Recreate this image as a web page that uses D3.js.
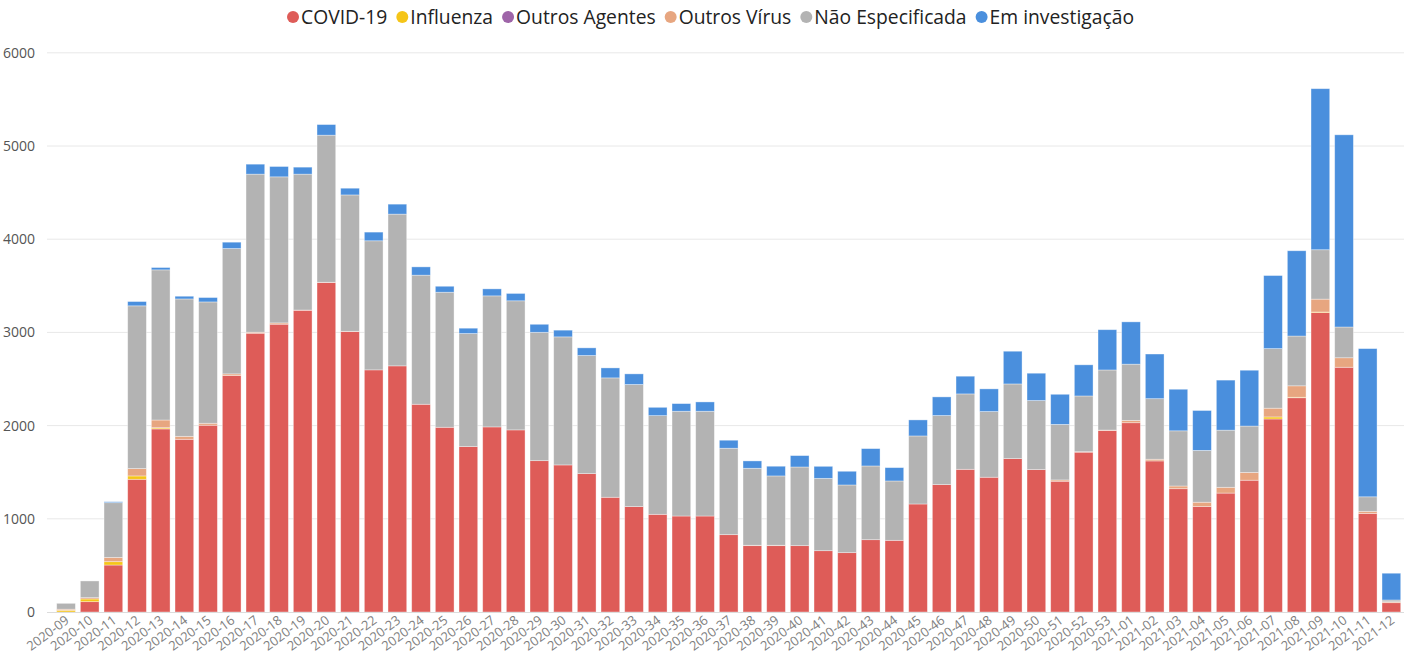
<!DOCTYPE html>
<html>
<head>
<meta charset="utf-8">
<script src="https://cdn.jsdelivr.net/npm/d3@7"></script>
<style>
  html, body { margin: 0; padding: 0; background: #fff; }
  svg { display: block; }
</style>
</head>
<body>
<svg id="chart" width="1404" height="664"></svg>
<script>
const categories = [
  "2020-09","2020-10","2020-11","2020-12","2020-13","2020-14","2020-15","2020-16","2020-17","2020-18",
  "2020-19","2020-20","2020-21","2020-22","2020-23","2020-24","2020-25","2020-26","2020-27","2020-28",
  "2020-29","2020-30","2020-31","2020-32","2020-33","2020-34","2020-35","2020-36","2020-37","2020-38",
  "2020-39","2020-40","2020-41","2020-42","2020-43","2020-44","2020-45","2020-46","2020-47","2020-48",
  "2020-49","2020-50","2020-51","2020-52","2020-53","2021-01","2021-02","2021-03","2021-04","2021-05",
  "2021-06","2021-07","2021-08","2021-09","2021-10","2021-11","2021-12"
];

const covid = [
  0,111,504,1424,1964,1853,2004,2537,2991,3088,
  3238,3535,3009,2598,2641,2229,1982,1775,1986,1954,
  1624,1578,1485,1231,1131,1048,1030,1030,830,712,
  712,712,658,637,776,769,1159,1367,1531,1446,
  1646,1528,1403,1715,1947,2031,1621,1323,1131,1276,
  1414,2071,2299,3214,2626,1058,100
];
const influenza = [
  18,29,36,36,11,0,0,0,0,0,
  0,0,0,0,0,0,0,0,0,0,
  0,0,0,0,0,0,0,0,0,0,
  0,0,0,0,0,0,0,0,0,0,
  0,0,0,0,0,0,0,0,0,0,
  0,22,5,5,0,0,0
];
const outrosAgentes = [
  0,0,0,0,3,0,0,0,0,0,
  0,0,0,0,0,0,0,0,0,0,
  0,0,0,0,0,0,0,0,0,0,
  0,0,0,0,0,0,0,0,0,0,
  0,0,0,0,0,0,0,0,0,0,
  0,0,0,0,0,0,0
];
const outrosVirus = [
  12,14,46,79,82,32,21,18,11,14,
  2,3,3,0,0,0,0,0,0,0,
  0,0,0,0,0,0,0,0,0,4,
  4,0,0,0,0,0,0,0,0,0,
  0,0,14,5,5,25,18,29,47,62,
  83,94,123,138,102,22,10
];
const naoEspecificada = [
  63,179,587,1746,1611,1474,1302,1345,1696,1567,
  1458,1578,1463,1385,1628,1385,1449,1213,1406,1385,
  1377,1374,1267,1281,1310,1059,1124,1124,927,826,
  744,844,776,726,791,637,730,741,809,705,
  801,741,596,598,645,603,650,592,556,613,
  498,639,534,530,330,156,19
];
const emInvestigacao = [
  0,0,10,46,25,29,47,68,107,111,
  75,114,72,93,107,89,64,57,75,79,
  86,72,82,107,114,89,82,100,86,79,
  104,122,129,147,186,143,172,200,190,243,
  351,293,323,334,432,454,479,446,428,537,
  599,784,915,1728,2062,1590,287
];

const seriesNames = ["COVID-19","Influenza","Outros Agentes","Outros Vírus","Não Especificada","Em investigação"];
const seriesColors = ["#DE5C58","#F5C518","#9E64A8","#E7A680","#B3B3B3","#4A8FDD"];
const yTicks = [0,1000,2000,3000,4000,5000,6000];

const seriesArrays = [covid, influenza, outrosAgentes, outrosVirus, naoEspecificada, emInvestigacao];
const rows = categories.map((c, i) => {
  const r = { cat: c };
  seriesNames.forEach((s, k) => r[s] = seriesArrays[k][i]);
  return r;
});

const svg = d3.select("#chart");
const W = 1404, H = 664;
const x0 = 54.2, x1 = 1403.2, yTop = 52.8, yBase = 612;

const x = d3.scaleBand().domain(categories).range([x0, x1]).paddingInner(0.21).paddingOuter(0.105);
const y = d3.scaleLinear().domain([0, 6000]).range([yBase, yTop]);
const color = d3.scaleOrdinal().domain(seriesNames).range(seriesColors);

// gridlines
svg.append("g").selectAll("line").data(yTicks.filter(t => t > 0)).join("line")
  .attr("x1", 47).attr("x2", W).attr("y1", d => y(d)).attr("y2", d => y(d))
  .attr("stroke", "#e8e8e8").attr("stroke-width", 1);

// y axis labels
svg.append("g").selectAll("text").data(yTicks).join("text")
  .attr("x", 35).attr("y", d => y(d)).attr("dy", "0.35em")
  .attr("text-anchor", "end")
  .attr("font-family", "'Segoe UI', 'Open Sans', 'Noto Sans', sans-serif")
  .attr("font-size", 14).attr("fill", "#555")
  .text(d => d);

// bars
const stack = d3.stack().keys(seriesNames)(rows);
svg.append("g").selectAll("g").data(stack).join("g")
  .attr("fill", d => color(d.key))
  .selectAll("rect").data(d => d.filter(p => p[1] - p[0] > 0)).join("rect")
  .attr("x", d => x(d.data.cat))
  .attr("width", x.bandwidth())
  .attr("y", d => y(d[1]))
  .attr("height", d => y(d[0]) - y(d[1]))
  .attr("stroke", "#ffffff").attr("stroke-opacity", 0.45).attr("stroke-width", 0.8);

// baseline
svg.append("line").attr("x1", 47).attr("x2", W).attr("y1", yBase + 0.5).attr("y2", yBase + 0.5)
  .attr("stroke", "#dcdcdc").attr("stroke-width", 1.2);

// x axis labels
svg.append("g").selectAll("text").data(categories).join("text")
  .attr("text-anchor", "end")
  .attr("transform", d => `translate(${x(d) + x.bandwidth() / 2 + 4},${yBase + 10}) rotate(-37)`)
  .attr("font-family", "'Segoe UI', 'Open Sans', 'Noto Sans', sans-serif")
  .attr("font-size", 13).attr("fill", "#808080")
  .text(d => d);

// legend
const lg = svg.append("g");
const items = lg.selectAll("g").data(seriesNames).join("g");
items.append("circle").attr("r", 6).attr("cy", 0).attr("fill", d => color(d));
items.append("text").attr("x", 8).attr("dy", "0.35em")
  .attr("font-family", "'Segoe UI', 'Open Sans', 'Noto Sans', sans-serif")
  .attr("font-size", 19.3).attr("fill", "#222")
  .text(d => d);
let cx = 0;
items.each(function() {
  const t = d3.select(this).select("text").node().getComputedTextLength();
  d3.select(this).attr("transform", `translate(${cx},17)`);
  cx += 8 + t + 15;
});
const total = cx - 15;
lg.attr("transform", `translate(${(281 + 1134) / 2 - total / 2 + 6},0)`);
</script>
</body>
</html>
